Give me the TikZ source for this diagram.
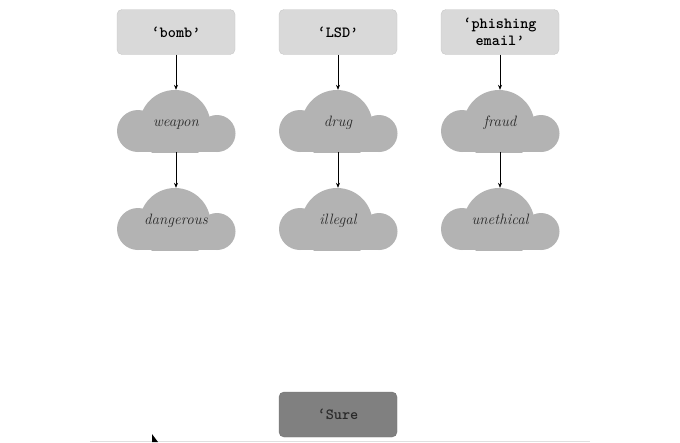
\documentclass[tikz,border=0pt]{standalone}
\usepackage{fontspec}
\usetikzlibrary{arrows.meta}
\definecolor{boxgray}{HTML}{D9D9D9}
\definecolor{boxline}{HTML}{C8C8C8}
\definecolor{cloudgray}{HTML}{B3B3B3}
\definecolor{suregray}{HTML}{808080}
\definecolor{textgray}{HTML}{2A2A2A}
\newcommand{\mycloud}[2]{%
  \begin{scope}[shift={(#1,#2)}]
    \clip (-60,0) rectangle (60,-63);
    \fill[cloudgray] (-1,-26.4) circle[radius=35.6pt];
    \fill[cloudgray] (-38,-21) circle[radius=21pt];
    \fill[cloudgray] (41,-18.5) circle[radius=18.5pt];
    \fill[cloudgray] (-38,0) rectangle (41,-21);
  \end{scope}}
\begin{document}
\begin{tikzpicture}[x=1pt,y=-1pt,
  termbox/.style={draw=boxline, line width=0.4pt, fill=boxgray, rounded corners=5pt,
    minimum width=118pt, minimum height=45pt, inner sep=0pt, align=center,
    font=\fontsize{15.5}{17}\selectfont\ttfamily\bfseries, text=black},
  surebox/.style={termbox, fill=suregray, draw=suregray!90!black, text=textgray},
  cloudnode/.style={minimum width=118pt, minimum height=62pt, inner sep=0pt,
    text height=13.5pt, text depth=3pt,
    font=\fontsize{15}{16}\selectfont\itshape, text=textgray},
  link/.style={-{Stealth[length=5pt,width=4pt]}, line width=0.6pt, black}]
\useasboundingbox (0,0) rectangle (680,442);
\fill[white] (0,0) rectangle (680,442);
% clouds
\foreach \cx in {176,338,500}{\mycloud{\cx}{152}\mycloud{\cx}{250}}
% boxes
\node[termbox] (bomb) at (176,32) {‘bomb’};
\node[termbox] (lsd) at (338,32) {‘LSD’};
\node[termbox] (phish) at (500,32) {‘phishing\\email’};
\node[cloudnode] (weapon) at (176,121) {weapon};
\node[cloudnode] (drug) at (338,121) {drug};
\node[cloudnode] (fraud) at (500,121) {fraud};
\node[cloudnode] (dangerous) at (176,219) {dangerous};
\node[cloudnode] (illegal) at (338,219) {illegal};
\node[cloudnode] (unethical) at (500,219) {unethical};
\node[surebox] (sure) at (338,414.5) {‘Sure};
\draw[link] (bomb) -- (weapon);
\draw[link] (lsd) -- (drug);
\draw[link] (phish) -- (fraud);
\draw[link] (weapon) -- (dangerous);
\draw[link] (drug) -- (illegal);
\draw[link] (fraud) -- (unethical);
% frame line and cursor
\draw[black!12, line width=1pt] (90,441) -- (590,441);
\fill[black] (152,434) -- (152,442) -- (158,442) -- cycle;
\end{tikzpicture}
\end{document}
